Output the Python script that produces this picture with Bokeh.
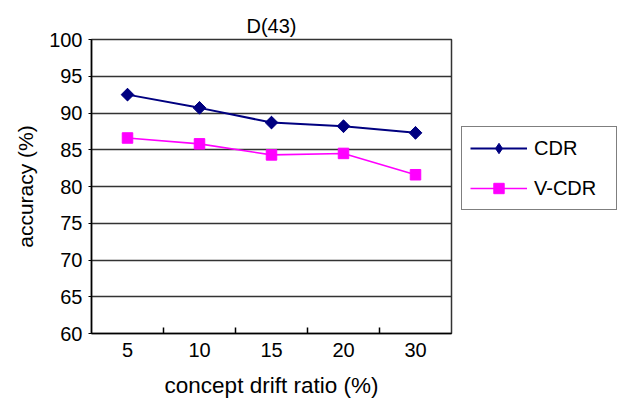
from bokeh.plotting import figure
from bokeh.models import FixedTicker, Legend, LegendItem, Range1d
from bokeh.embed import file_html
from bokeh.resources import INLINE

categories = ["5", "10", "15", "20", "30"]
cdr = [92.5, 90.7, 88.7, 88.2, 87.3]
vcdr = [86.6, 85.8, 84.3, 84.5, 81.6]
y_ticks = [60, 65, 70, 75, 80, 85, 90, 95, 100]

xs = list(range(1, len(categories) + 1))
FONT = "Liberation Sans"
FS = "20px"

p = figure(frame_width=360, frame_height=294, output_backend="svg", toolbar_location=None,
           min_border_left=91, min_border_right=0, min_border_top=39,
           min_border_bottom=66, title="D(43)",
           x_range=Range1d(0.5, len(categories) + 0.5), y_range=Range1d(60, 100))
p.background_fill_color = "white"
p.border_fill_color = "white"
p.outline_line_color = "#333333"
p.outline_line_width = 1.5

p.title.align = "center"
p.title.text_font = FONT
p.title.text_font_size = FS
p.title.text_font_style = "normal"
p.title.text_color = "black"
p.title.standoff = 6

# x axis
p.xaxis.ticker = FixedTicker(ticks=xs, minor_ticks=[x + 0.5 for x in xs[:-1]])
p.xaxis.major_label_overrides = {x: c for x, c in zip(xs, categories)}
p.xaxis.major_tick_in = 0
p.xaxis.major_tick_out = 0
p.xaxis.minor_tick_in = 6
p.xaxis.minor_tick_out = 0
p.xaxis.minor_tick_line_color = "black"
p.xaxis.minor_tick_line_width = 1.5
p.xaxis.axis_line_color = "black"
p.xaxis.axis_line_width = 1.5
p.xaxis.major_label_standoff = 9
p.xaxis.axis_label = "concept drift ratio (%)"
p.xaxis.axis_label_standoff = 13

# y axis
p.yaxis.ticker = FixedTicker(ticks=y_ticks)
p.yaxis.major_tick_in = 0
p.yaxis.major_tick_out = 3
p.yaxis.major_tick_line_color = "black"
p.yaxis.major_tick_line_width = 1.2
p.yaxis.minor_tick_line_color = None
p.yaxis.axis_line_color = "black"
p.yaxis.axis_line_width = 1.5
p.yaxis.major_label_standoff = 6
p.yaxis.axis_label = "accuracy (%)"
p.yaxis.axis_label_standoff = 9

for ax in (p.xaxis, p.yaxis):
    ax.major_label_text_font = FONT
    ax.major_label_text_font_size = FS
    ax.major_label_text_color = "black"
    ax.axis_label_text_font = FONT
    ax.axis_label_text_font_style = "normal"
    ax.axis_label_text_color = "black"
p.xaxis.axis_label_text_font_size = "22.5px"
p.yaxis.axis_label_text_font_size = "21px"

p.xgrid.grid_line_color = None
p.ygrid.ticker = FixedTicker(ticks=y_ticks)
p.ygrid.grid_line_color = "#333333"
p.ygrid.grid_line_width = 1.3

# series
l1 = p.line(xs, cdr, line_color="#000080", line_width=2)
m1d = p.scatter(xs, cdr, marker="diamond", size=12,
                fill_color="#000080", line_color="#000080")
m1 = p.scatter(xs, cdr, marker="square", angle=0.785398, size=9,
               fill_color="#000080", line_color="#000080")
l2 = p.line(xs, vcdr, line_color="#FF00FF", line_width=1.6)
m2 = p.scatter(xs, vcdr, marker="square", size=10.5,
               fill_color="#FF00FF", line_color="#FF00FF")

legend = Legend(items=[LegendItem(label="CDR", renderers=[l1, m1d]),
                       LegendItem(label="V-CDR", renderers=[l2, m2])],
                location=(10, 123), orientation="vertical")
legend.glyph_width = 57
legend.glyph_height = 26
legend.spacing = 14
legend.padding = 8
legend.margin = 0
legend.label_standoff = 7
legend.label_width = 74
legend.label_text_font = FONT
legend.label_text_font_size = FS
legend.label_text_color = "black"
legend.border_line_color = "black"
legend.border_line_width = 1.2
legend.background_fill_color = "white"
legend.background_fill_alpha = 1.0
p.add_layout(legend, "right")

open("out.html", "w").write(file_html(p, INLINE))
